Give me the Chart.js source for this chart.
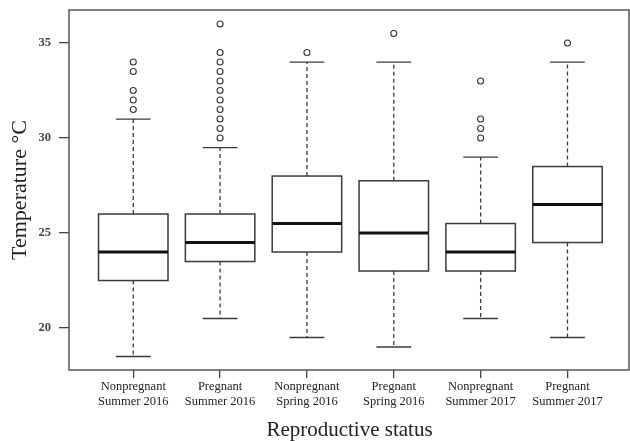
<!DOCTYPE html>
<html><head><meta charset="utf-8">
<script src="https://cdn.jsdelivr.net/npm/chart.js@4"></script>
<style>html,body{margin:0;padding:0;background:#fff}#wrap{width:630px;height:441px;position:relative}</style>
</head><body><div id="wrap"><canvas id="c"></canvas></div>
<script>
const categories = [["Nonpregnant","Summer 2016"],["Pregnant","Summer 2016"],["Nonpregnant","Spring 2016"],["Pregnant","Spring 2016"],["Nonpregnant","Summer 2017"],["Pregnant","Summer 2017"]];
const lowerWhisker = [18.5, 20.5, 19.5, 19.0, 20.5, 19.5];
const q1 = [22.5, 23.5, 24.0, 23.0, 23.0, 24.5];
const median = [24.0, 24.5, 25.5, 25.0, 24.0, 26.5];
const q3 = [26.0, 26.0, 28.0, 27.75, 25.5, 28.5];
const upperWhisker = [31.0, 29.5, 34.0, 34.0, 29.0, 34.0];
const outliers = [
  [31.5, 32, 32.5, 33.5, 34],
  [30, 30.5, 31, 31.5, 32, 32.5, 33, 33.5, 34, 34.5, 36],
  [34.5],
  [35.5],
  [30, 30.5, 31, 33],
  [35]
];
const yTicks = [20, 25, 30, 35];

const outlierPoints = [];
outliers.forEach((arr, i) => arr.forEach(v => outlierPoints.push({x: i + 1, y: v})));

const LINE = '#3a3a3a';
const boxPlugin = {
  id: 'boxes',
  beforeDatasetsDraw(chart) {
    const {ctx, chartArea, scales: {x, y}} = chart;
    ctx.save();
    for (let i = 0; i < categories.length; i++) {
      const cx = x.getPixelForValue(i + 1);
      const hw = x.getPixelForValue(i + 1.4) - cx;
      const cw = x.getPixelForValue(i + 1.2) - cx;
      const pQ1 = y.getPixelForValue(q1[i]);
      const pQ3 = y.getPixelForValue(q3[i]);
      const pMed = y.getPixelForValue(median[i]);
      const pLo = y.getPixelForValue(lowerWhisker[i]);
      const pHi = y.getPixelForValue(upperWhisker[i]);
      ctx.strokeStyle = LINE;
      ctx.lineWidth = 1.3;
      ctx.setLineDash([4, 3]);
      ctx.beginPath();
      ctx.moveTo(cx, pQ3); ctx.lineTo(cx, pHi);
      ctx.moveTo(cx, pQ1); ctx.lineTo(cx, pLo);
      ctx.stroke();
      ctx.setLineDash([]);
      ctx.beginPath();
      ctx.moveTo(cx - cw, pHi); ctx.lineTo(cx + cw, pHi);
      ctx.moveTo(cx - cw, pLo); ctx.lineTo(cx + cw, pLo);
      ctx.stroke();
      ctx.fillStyle = '#fff';
      ctx.fillRect(cx - hw, pQ3, 2 * hw, pQ1 - pQ3);
      ctx.lineWidth = 1.5;
      ctx.strokeRect(cx - hw, pQ3, 2 * hw, pQ1 - pQ3);
      ctx.strokeStyle = '#111';
      ctx.lineWidth = 3;
      ctx.beginPath();
      ctx.moveTo(cx - hw, pMed); ctx.lineTo(cx + hw, pMed);
      ctx.stroke();
    }
    ctx.strokeStyle = '#555';
    ctx.lineWidth = 1.5;
    ctx.strokeRect(chartArea.left, chartArea.top, chartArea.right - chartArea.left - 1, chartArea.bottom - chartArea.top);
    ctx.restore();
  }
};

new Chart(document.getElementById('c'), {
  type: 'scatter',
  data: {
    datasets: [{
      data: outlierPoints,
      pointRadius: 3,
      pointStyle: 'circle',
      borderColor: '#333',
      backgroundColor: '#fff',
      borderWidth: 1.1,
      pointHoverRadius: 3
    }]
  },
  options: {
    responsive: true,
    maintainAspectRatio: false,
    animation: false,
    layout: {autoPadding: false, padding: {top: 10, right: 0, left: 0, bottom: 0}},
    plugins: {legend: {display: false}, tooltip: {enabled: false}},
    scales: {
      x: {
        type: 'linear',
        min: 0.26, max: 6.72,
        afterBuildTicks(s) { s.ticks = categories.map((_, i) => ({value: i + 1})); },
        afterFit(s) { s.height = 71; s.paddingLeft = 0; s.paddingRight = 0; },
        border: {display: false},
        grid: {drawOnChartArea: false, drawTicks: true, tickLength: 8, color: '#444', lineWidth: 1.3},
        ticks: {
          autoSkip: false, maxRotation: 0, padding: 2,
          color: '#222',
          font: {family: 'Liberation Serif', size: 12.5, lineHeight: 1.15},
          callback: (v) => categories[v - 1]
        },
        title: {
          display: true, text: 'Reproductive status', color: '#222',
          font: {family: 'Liberation Serif', size: 21, lineHeight: 1},
          padding: {top: 0, bottom: 0}
        }
      },
      y: {
        min: 17.79, max: 36.74,
        afterBuildTicks(s) { s.ticks = yTicks.map(v => ({value: v})); },
        afterFit(s) { s.width = 69; s.paddingTop = 0; s.paddingBottom = 0; },
        border: {display: false},
        grid: {drawOnChartArea: false, drawTicks: true, tickLength: 10, color: '#444', lineWidth: 1.3},
        ticks: {
          padding: 8, color: '#444',
          font: {family: 'Liberation Serif', size: 12.5, weight: 'bold'}
        },
        title: {
          display: true, text: 'Temperature °C', color: '#222',
          font: {family: 'Liberation Serif', size: 22, lineHeight: 1},
          padding: {top: 9, bottom: 0}
        }
      }
    }
  },
  plugins: [boxPlugin]
});
</script></body></html>
